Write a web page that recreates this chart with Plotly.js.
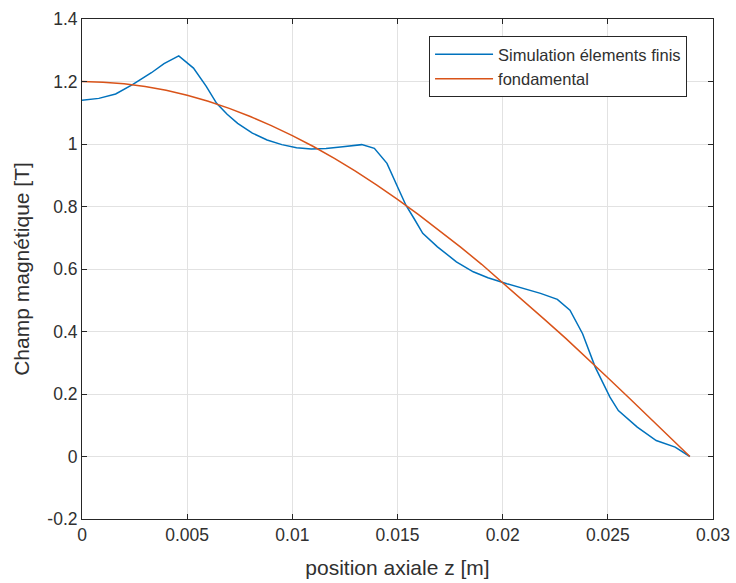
<!DOCTYPE html>
<html>
<head>
<meta charset="utf-8">
<script src="https://cdn.plot.ly/plotly-3.0.1.min.js"></script>
<style>html,body{margin:0;padding:0;background:#fff;}#chart{width:736px;height:583px;}</style>
</head>
<body>
<div id="chart"></div>
<script>
// Simulation éléments finis (blue)
const simZ = [0, 0.0008, 0.0016, 0.0024, 0.0033, 0.0039, 0.0046, 0.0053, 0.0059, 0.0064, 0.0069, 0.0074, 0.0081, 0.0088, 0.0095, 0.0102, 0.0109, 0.0116, 0.0124, 0.0133, 0.0139, 0.0145, 0.0150, 0.0154, 0.0158, 0.0162, 0.0169, 0.0178, 0.0186, 0.0193, 0.0202, 0.0210, 0.0218, 0.0226, 0.0232, 0.0238, 0.0244, 0.0251, 0.0255, 0.0264, 0.0273, 0.0282, 0.0289];
const simB = [1.140, 1.146, 1.160, 1.190, 1.228, 1.257, 1.282, 1.243, 1.185, 1.130, 1.095, 1.066, 1.035, 1.013, 0.998, 0.988, 0.984, 0.986, 0.991, 0.998, 0.986, 0.938, 0.863, 0.804, 0.760, 0.714, 0.671, 0.623, 0.591, 0.572, 0.553, 0.538, 0.522, 0.503, 0.468, 0.393, 0.286, 0.190, 0.147, 0.094, 0.051, 0.030, 0.000];
// Fondamental (orange)
const fundZ = [0, 0.001, 0.002, 0.003, 0.004, 0.005, 0.006, 0.007, 0.008, 0.009, 0.010, 0.011, 0.012, 0.013, 0.014, 0.015, 0.016, 0.017, 0.018, 0.019, 0.020, 0.021, 0.022, 0.023, 0.024, 0.025, 0.026, 0.027, 0.028, 0.0289];
const fundB = [1.200, 1.198, 1.193, 1.184, 1.172, 1.156, 1.137, 1.114, 1.088, 1.059, 1.027, 0.992, 0.954, 0.913, 0.869, 0.823, 0.774, 0.723, 0.670, 0.615, 0.557, 0.498, 0.438, 0.378, 0.316, 0.252, 0.188, 0.124, 0.059, 0.000];
const seriesNames = ["Simulation élements finis", "fondamental"];
const xTickVals = [0, 0.005, 0.01, 0.015, 0.02, 0.025, 0.03];
const xTickText = ["0", "0.005", "0.01", "0.015", "0.02", "0.025", "0.03"];
const yTickVals = [-0.2, 0, 0.2, 0.4, 0.6, 0.8, 1, 1.2, 1.4];
const yTickText = ["-0.2", "0", "0.2", "0.4", "0.6", "0.8", "1", "1.2", "1.4"];

const axisColor = "#262626";
const textColor = "#303030";
const font = "Liberation Sans, Arial, sans-serif";

const traces = [
  {x: simZ, y: simB, name: seriesNames[0], type: "scatter", mode: "lines",
   line: {color: "#0072BD", width: 1.5}},
  {x: fundZ, y: fundB, name: seriesNames[1], type: "scatter", mode: "lines",
   line: {color: "#D95319", width: 1.5}}
];

const layout = {
  width: 736, height: 583,
  margin: {l: 82, r: 23, t: 19, b: 64, pad: 0},
  paper_bgcolor: "#fff", plot_bgcolor: "#fff",
  font: {family: font, color: textColor, size: 17},
  showlegend: true,
  legend: {
    x: 0.55, y: 0.966, xanchor: "left", yanchor: "top",
    bgcolor: "#fff", bordercolor: axisColor, borderwidth: 1,
    font: {family: font, size: 16.5, color: textColor},
    itemwidth: 58, tracegroupgap: 0
  },
  xaxis: {
    range: [0, 0.03], tickmode: "array", tickvals: xTickVals, ticktext: xTickText,
    showgrid: true, gridcolor: "#e2e2e2", gridwidth: 1, zeroline: false,
    showline: true, linecolor: axisColor, linewidth: 1, mirror: "ticks",
    ticks: "inside", ticklen: 5, tickcolor: axisColor,
    tickfont: {family: font, size: 17.5, color: textColor},
    title: {text: "position axiale z [m]", font: {family: font, size: 21, color: textColor}, standoff: 16},
    automargin: false
  },
  yaxis: {
    range: [-0.2, 1.4], tickmode: "array", tickvals: yTickVals, ticktext: yTickText,
    showgrid: true, gridcolor: "#e2e2e2", gridwidth: 1, zeroline: false,
    showline: true, linecolor: axisColor, linewidth: 1, mirror: "ticks",
    ticks: "inside", ticklen: 5, tickcolor: axisColor,
    tickfont: {family: font, size: 17.5, color: textColor},
    title: {text: "Champ magnétique [T]", font: {family: font, size: 21, color: textColor}, standoff: 11},
    automargin: false
  }
};

Plotly.newPlot("chart", traces, layout, {displayModeBar: false, staticPlot: true});
</script>
</body>
</html>
